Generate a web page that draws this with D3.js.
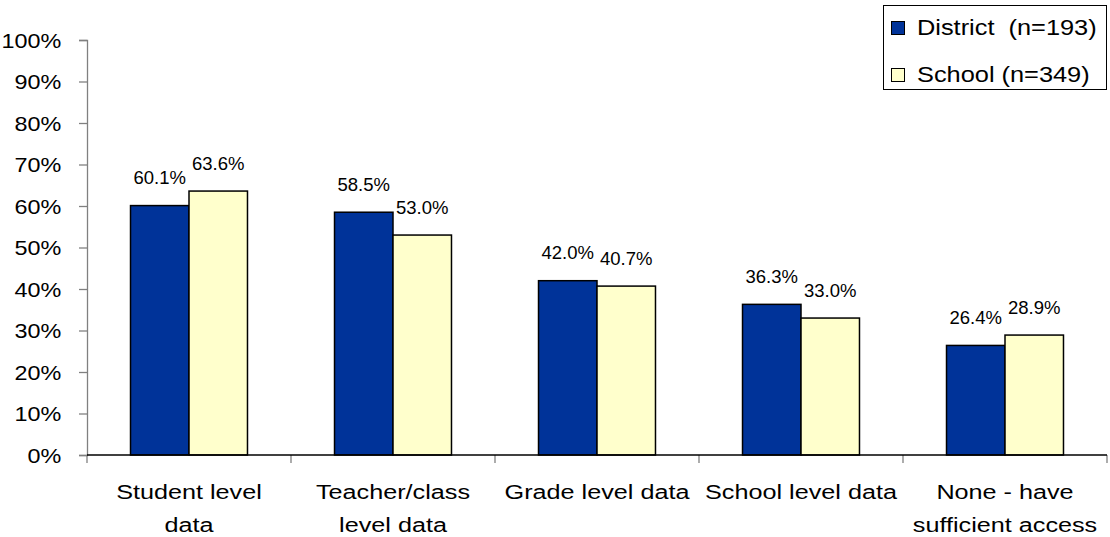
<!DOCTYPE html>
<html>
<head>
<meta charset="utf-8">
<script src="https://cdn.jsdelivr.net/npm/d3@7"></script>
<style>
  body { margin: 0; background: #fff; }
  svg text { font-family: "Liberation Sans", Arial, sans-serif; fill: #000; }
</style>
</head>
<body>
<svg id="chart" width="1110" height="537"></svg>
<script>
const categories = [
  ["Student level", "data"],
  ["Teacher/class", "level data"],
  ["Grade level data"],
  ["School level data"],
  ["None - have", "sufficient access"]
];
const seriesNames = ["District  (n=193)", "School (n=349)"];
const districtValues = [60.1, 58.5, 42.0, 36.3, 26.4];
const schoolValues = [63.6, 53.0, 40.7, 33.0, 28.9];
const yTicks = [0, 10, 20, 30, 40, 50, 60, 70, 80, 90, 100];
const colors = ["#003399", "#FFFFCC"];

const svg = d3.select("#chart");
const mLeft = 87, mRight = 1107, mTop = 40, mBottom = 455;

const catIdx = categories.map((d, i) => i);
const x0 = d3.scaleBand().domain(catIdx).range([mLeft, mRight]).paddingInner(0).paddingOuter(0);
const x1 = d3.scaleBand().domain([0, 1]).range([0, x0.bandwidth()]).paddingInner(0).paddingOuter(0.744);
const y = d3.scaleLinear().domain([0, 100]).range([mBottom, mTop]);

// Y axis
const yAxis = svg.append("g").attr("transform", `translate(${mLeft},0)`)
  .call(d3.axisLeft(y).tickValues(yTicks).tickSize(8).tickPadding(14).tickFormat(d => d + "%"));
yAxis.select(".domain").attr("stroke", "#808080").attr("stroke-width", 1.3);
yAxis.selectAll(".tick line").attr("stroke", "#808080").attr("stroke-width", 1.3);
yAxis.selectAll(".tick text")
  .attr("font-size", 20)
  .attr("font-family", "Liberation Sans, Arial, sans-serif")
  .attr("fill", "#000")
  .attr("dy", "0.36em")
  .attr("transform", "scale(1.17,1)");

// X axis ticks at band boundaries
const xBounds = catIdx.map(i => x0(i)).concat([mRight]);
svg.append("g").selectAll("line").data(xBounds).join("line")
  .attr("x1", d => d).attr("x2", d => d)
  .attr("y1", mBottom).attr("y2", mBottom + 8)
  .attr("stroke", "#808080").attr("stroke-width", 1.3);

// Bars
const data = catIdx.map(i => [districtValues[i], schoolValues[i]]);
const groups = svg.append("g").selectAll("g").data(data).join("g")
  .attr("transform", (d, i) => `translate(${x0(i)},0)`);
groups.selectAll("rect").data(d => d).join("rect")
  .attr("x", (d, j) => x1(j))
  .attr("width", x1.bandwidth())
  .attr("y", d => y(d))
  .attr("height", d => mBottom - y(d))
  .attr("fill", (d, j) => colors[j])
  .attr("stroke", "#000")
  .attr("stroke-width", 1.5);
groups.selectAll("text").data(d => d).join("text")
  .attr("x", (d, j) => x1(j) + x1.bandwidth() / 2)
  .attr("y", d => y(d) - 21.5)
  .attr("text-anchor", "middle")
  .attr("font-size", 18.5)
  .text(d => d.toFixed(1) + "%");

svg.append("line").attr("x1", mLeft).attr("x2", mRight).attr("y1", mBottom).attr("y2", mBottom)
  .attr("stroke", "#000").attr("stroke-width", 1.5);

// Category labels
const catG = svg.append("g");
categories.forEach((lines, i) => {
  const cx = x0(i) + x0.bandwidth() / 2;
  const t = catG.append("text")
    .attr("text-anchor", "middle")
    .attr("font-size", 21)
    .attr("transform", `translate(${cx},0) scale(1.2,1)`);
  lines.forEach((ln, k) => {
    t.append("tspan").attr("x", 0).attr("y", 499 + k * 33).text(ln);
  });
});

// Legend
const lg = svg.append("g");
lg.append("rect").attr("x", 883.5).attr("y", 5.5).attr("width", 223).attr("height", 84)
  .attr("fill", "#fff").attr("stroke", "#000").attr("stroke-width", 1);
seriesNames.forEach((name, j) => {
  const yy = 35 + j * 47;
  lg.append("rect").attr("x", 891.5).attr("y", yy - 13.5).attr("width", 13).attr("height", 13)
    .attr("fill", colors[j]).attr("stroke", "#000").attr("stroke-width", 1);
  lg.append("text")
    .attr("transform", `translate(917,${yy}) scale(1.18,1)`)
    .attr("font-size", 21.5)
    .style("white-space", "pre")
    .text(name);
});
</script>
</body>
</html>
